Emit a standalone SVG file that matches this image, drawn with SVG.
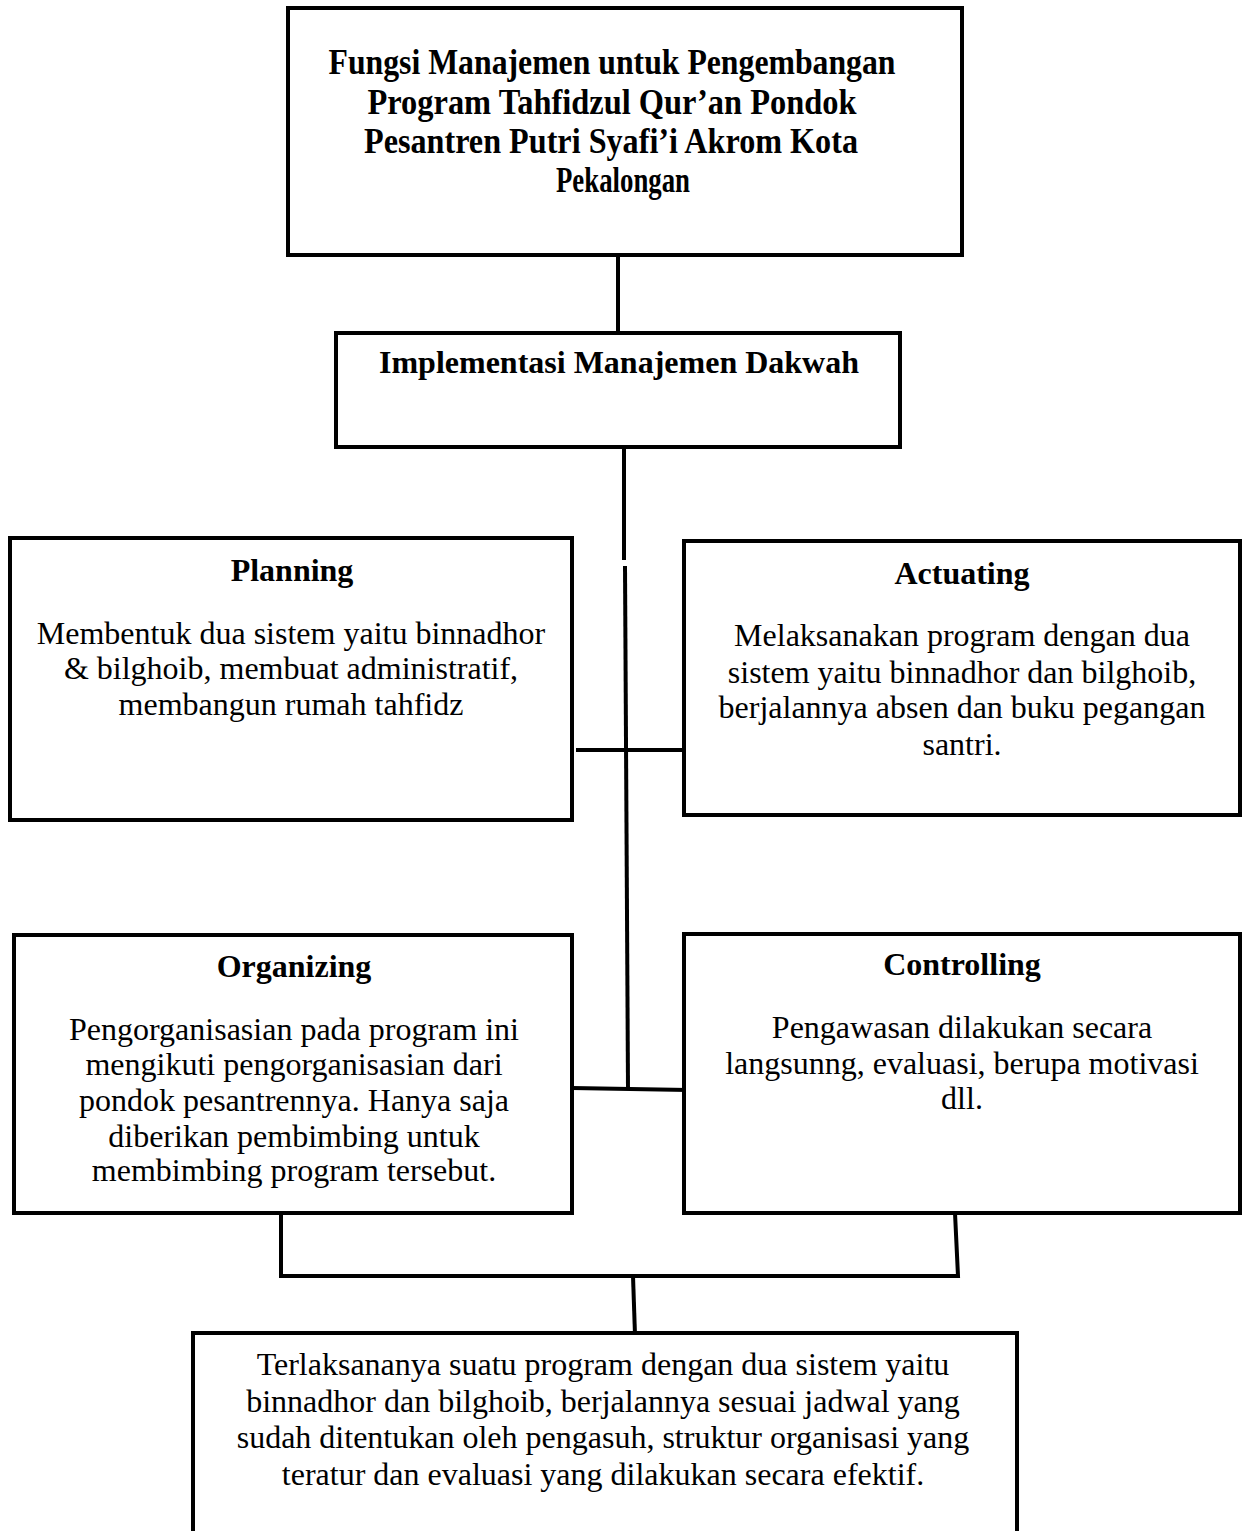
<svg xmlns="http://www.w3.org/2000/svg" width="1249" height="1531" viewBox="0 0 1249 1531">
<style>
.box{fill:#fff;stroke:#000;stroke-width:4}
.ln{fill:none;stroke:#000;stroke-width:4}
text{font-family:"Liberation Serif","Times New Roman",serif;fill:#000;text-anchor:middle}
.t{font-size:32px}
.b{font-size:32px;font-weight:bold}
.h{font-size:36px;font-weight:bold}
</style>
<rect width="1249" height="1531" fill="#fff"/>
<g id="connectors">
<line class="ln" x1="618" y1="255" x2="618" y2="333"/>
<line class="ln" x1="624" y1="447" x2="624" y2="560"/>
<line class="ln" x1="625" y1="566" x2="628" y2="1089"/>
<line class="ln" x1="576" y1="750" x2="685" y2="750"/>
<line class="ln" x1="572" y1="1088" x2="688" y2="1090"/>
<polyline class="ln" points="281,1213 281,1276 958,1276 955,1213"/>
<line class="ln" x1="633" y1="1276" x2="635" y2="1335"/>
</g>
<g id="top">
<rect class="box" x="288" y="8" width="674" height="247"/>
<text class="h" x="612" y="74" textLength="567" lengthAdjust="spacingAndGlyphs">Fungsi Manajemen untuk Pengembangan</text>
<text class="h" x="612" y="114" textLength="489" lengthAdjust="spacingAndGlyphs">Program Tahfidzul Qur’an Pondok</text>
<text class="h" x="611" y="153" textLength="494" lengthAdjust="spacingAndGlyphs">Pesantren Putri Syafi’i Akrom Kota</text>
<text class="h" x="623" y="192" textLength="134" lengthAdjust="spacingAndGlyphs">Pekalongan</text>
</g>
<g id="implementasi">
<rect class="box" x="336" y="333" width="564" height="114"/>
<text class="b" x="619" y="373">Implementasi Manajemen Dakwah</text>
</g>
<g id="planning">
<rect class="box" x="10" y="538" width="562" height="282"/>
<text class="b" x="292" y="581">Planning</text>
<text class="t" x="291" y="644">Membentuk dua sistem yaitu binnadhor</text>
<text class="t" x="291" y="679">&amp; bilghoib, membuat administratif,</text>
<text class="t" x="291" y="715">membangun rumah tahfidz</text>
</g>
<g id="actuating">
<rect class="box" x="684" y="541" width="556" height="274"/>
<text class="b" x="962" y="584">Actuating</text>
<text class="t" x="962" y="646">Melaksanakan program dengan dua</text>
<text class="t" x="962" y="683">sistem yaitu binnadhor dan bilghoib,</text>
<text class="t" x="962" y="718">berjalannya absen dan buku pegangan</text>
<text class="t" x="962" y="755">santri.</text>
</g>
<g id="organizing">
<rect class="box" x="14" y="935" width="558" height="278"/>
<text class="b" x="294" y="977">Organizing</text>
<text class="t" x="294" y="1040">Pengorganisasian pada program ini</text>
<text class="t" x="294" y="1075">mengikuti pengorganisasian dari</text>
<text class="t" x="294" y="1111">pondok pesantrennya. Hanya saja</text>
<text class="t" x="294" y="1147">diberikan pembimbing untuk</text>
<text class="t" x="294" y="1181">membimbing program tersebut.</text>
</g>
<g id="controlling">
<rect class="box" x="684" y="934" width="556" height="279"/>
<text class="b" x="962" y="975">Controlling</text>
<text class="t" x="962" y="1038">Pengawasan dilakukan secara</text>
<text class="t" x="962" y="1074">langsunng, evaluasi, berupa motivasi</text>
<text class="t" x="962" y="1109">dll.</text>
</g>
<g id="result">
<rect class="box" x="193" y="1333" width="824" height="220"/>
<text class="t" x="603" y="1375">Terlaksananya suatu program dengan dua sistem yaitu</text>
<text class="t" x="603" y="1412">binnadhor dan bilghoib, berjalannya sesuai jadwal yang</text>
<text class="t" x="603" y="1448">sudah ditentukan oleh pengasuh, struktur organisasi yang</text>
<text class="t" x="603" y="1485">teratur dan evaluasi yang dilakukan secara efektif.</text>
</g>
</svg>
